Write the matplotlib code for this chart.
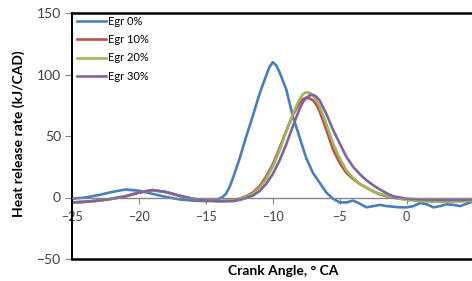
import matplotlib
matplotlib.use("Agg")
import matplotlib.pyplot as plt

plt.rcParams['font.family'] = ['Lato', 'DejaVu Sans']

# crank angle / heat release rate
ca_0 = [-25, -24, -23, -22, -21, -20, -19, -18, -17, -16, -15, -14.5, -14, -13.75, -13.5,
        -13.25, -13, -12.5, -12, -11.5, -11, -10.5, -10.25, -10, -9.75, -9.5, -9, -8.5,
        -8, -7.5, -7, -6.5, -6, -5.5, -5, -4.5, -4, -3.5, -3, -2.5, -2, -1.5, -1, -0.5,
        0, 0.5, 1, 1.5, 2, 2.5, 3, 3.5, 4, 4.5, 5]
hrr_0 = [-1, 0, 2, 4.5, 6.5, 5.5, 3, 0.5, -1.5, -2.5, -3, -2.5, -1, 0.5, 3,
         8, 15, 31, 49, 66, 84, 99, 106, 110, 107.5, 102, 88, 66,
         49, 32, 20, 12, 4, -1, -4, -4, -2.5, -5, -8, -7, -6, -7, -7.5, -8,
         -8, -7, -4.5, -5.5, -8, -7, -5.5, -6, -7, -5, -3]

ca = [-25, -24, -23, -22, -21, -20, -19, -18, -17, -16, -15, -14, -13, -12.5,
      -12, -11.5, -11, -10.5, -10, -9.5, -9, -8.5, -8, -7.75, -7.5, -7.25, -7,
      -6.75, -6.5, -6, -5.5, -5, -4.5, -4, -3.5, -3, -2.5, -2, -1.5, -1, -0.5,
      0, 1, 2, 3, 4, 5]
hrr_10 = [-4, -3.5, -2.5, -1, 1, 4, 6, 4.5, 1.5, -1, -2.5, -3, -2.5, -1,
          1, 4, 9, 17, 27, 40, 54, 67, 77, 80, 81, 80.5, 79,
          75.5, 70, 55, 39, 28, 20, 15, 11, 8, 5, 2.5, 1, 0, -1,
          -1.5, -2.5, -3, -3, -3, -2.5]
hrr_20 = [-4, -3.5, -2.5, -1, 1, 4, 6, 4.5, 1.5, -1, -2.5, -3, -2.5, -1,
          0.5, 3, 7.5, 15, 25, 38, 53, 68, 80, 84, 85.5, 85, 83,
          79, 74, 60, 44, 32, 22, 16, 11, 8, 5, 3, 1.5, 0, -1,
          -2, -3, -3.5, -3.5, -3, -2.5]
hrr_30 = [-4, -3.5, -2.5, -1, 1, 4, 6, 4.5, 1.5, -1, -2.5, -3, -3, -2,
          -0.5, 1.5, 5, 11, 19, 30, 43, 58, 72, 77.5, 81, 83, 83.5,
          82, 79, 68, 55, 44, 33, 25, 19, 14, 10, 6.5, 3.5, 1, 0,
          -1, -1.5, -2, -2, -2, -1.5]

labels = ['Egr 0%', 'Egr 10%', 'Egr 20%', 'Egr 30%']
colors = ['#4a7ebb', '#c0504d', '#9bbb59', '#8064a2']

fig = plt.figure(figsize=(4.72, 2.81), dpi=100)
ax = fig.add_axes([72/472, 22/281, (540.5-72)/472, 246/281])

ax.plot(ca_0, hrr_0, color=colors[0], lw=1.9, label=labels[0], solid_joinstyle='round')
ax.plot(ca, hrr_10, color=colors[1], lw=1.9, label=labels[1], solid_joinstyle='round')
ax.plot(ca, hrr_20, color=colors[2], lw=1.9, label=labels[2], solid_joinstyle='round')
ax.plot(ca, hrr_30, color=colors[3], lw=1.9, label=labels[3], solid_joinstyle='round')

ax.set_xlim(-25, 10)
ax.set_ylim(-50, 150)
ax.set_xticks(range(-25, 11, 5))
ax.set_yticks(range(-50, 151, 50))

# x axis sits on the zero line
ax.spines['bottom'].set_position(('data', 0))
ax.spines['bottom'].set_color('#868686')
ax.spines['bottom'].set_linewidth(1)
ax.spines['right'].set_visible(False)
ax.spines['top'].set_linewidth(1.8)
ax.spines['left'].set_linewidth(1.5)
ax.axhline(-50, color='black', lw=1.8, clip_on=False)

ax.tick_params(axis='x', direction='out', length=4, color='#868686',
               labelsize=9, labelcolor='#404040', pad=6)
ax.tick_params(axis='y', direction='out', length=5, color='#868686',
               labelsize=10, labelcolor='#404040', pad=3)

ax.set_xlabel('Crank Angle, ° CA', fontsize=10, fontweight='bold')
ax.xaxis.set_label_coords((283-72)/468.5, -0.024)
ax.set_ylabel('Heat release rate (kJ/CAD)', fontsize=10, fontweight='bold')
ax.yaxis.set_label_coords(-0.1, 0.508)

fig.legend(loc='upper left', bbox_to_anchor=(77/472, 1-16/281), frameon=False,
           fontsize=8, handlelength=2.6, handletextpad=0.2, labelspacing=0.65,
           borderpad=0, borderaxespad=0)

fig.savefig('out.png', dpi=100)
